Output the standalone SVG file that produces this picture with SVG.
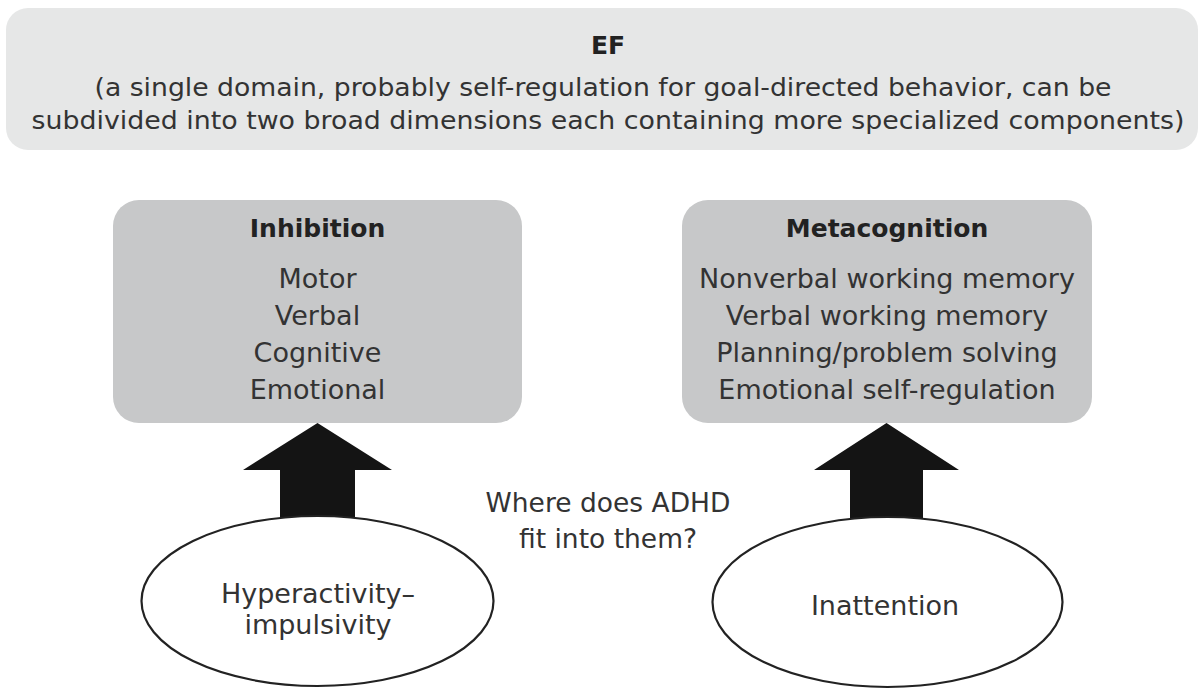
<svg xmlns="http://www.w3.org/2000/svg" width="1202" height="690" viewBox="0 0 1202 690">
  <style>
    .txt { font-family: "DejaVu Sans", "Liberation Sans", sans-serif; fill: #333333; text-anchor: middle; }
    .head { font-weight: bold; fill: #222222; }
    .banner { fill: #e6e7e7; }
    .panel { fill: #c7c8c9; }
    .oval { fill: #ffffff; stroke: #222222; stroke-width: 2.2; }
    .arrow { fill: #141414; }
  </style>

  <!-- top banner -->
  <g id="ef">
    <rect class="banner" x="6" y="8" width="1192" height="142" rx="22" ry="22"/>
    <text class="txt head" x="608" y="54" font-size="25">EF</text>
    <text class="txt" x="603" y="96" font-size="24.5" textLength="1017" lengthAdjust="spacingAndGlyphs">(a single domain, probably self-regulation for goal-directed behavior, can be</text>
    <text class="txt" x="608" y="129" font-size="24.5" textLength="1153" lengthAdjust="spacingAndGlyphs">subdivided into two broad dimensions each containing more specialized components)</text>
  </g>

  <!-- inhibition panel -->
  <g id="inhibition">
    <rect class="panel" x="113" y="200" width="409" height="223" rx="26" ry="26"/>
    <text class="txt head" x="317.5" y="237" font-size="25">Inhibition</text>
    <text class="txt" x="317.5" y="288" font-size="27">Motor</text>
    <text class="txt" x="317.5" y="325" font-size="27">Verbal</text>
    <text class="txt" x="317.5" y="362" font-size="27">Cognitive</text>
    <text class="txt" x="317.5" y="399" font-size="27">Emotional</text>
  </g>

  <!-- metacognition panel -->
  <g id="metacognition">
    <rect class="panel" x="682" y="200" width="410" height="223" rx="26" ry="26"/>
    <text class="txt head" x="887" y="237" font-size="25">Metacognition</text>
    <text class="txt" x="887" y="288" font-size="27">Nonverbal working memory</text>
    <text class="txt" x="887" y="325" font-size="27">Verbal working memory</text>
    <text class="txt" x="887" y="362" font-size="27">Planning/problem solving</text>
    <text class="txt" x="887" y="399" font-size="27">Emotional self-regulation</text>
  </g>

  <!-- block arrows -->
  <g id="connectors">
    <polygon class="arrow" points="317.5,423 392,470 355,470 355,518 280,518 280,470 243,470"/>
    <polygon class="arrow" points="886.5,423 959,470 923,470 923,518 850,518 850,470 814,470"/>
  </g>

  <!-- symptom ovals -->
  <g id="hyperactivity">
    <ellipse class="oval" cx="317.5" cy="601" rx="176" ry="85"/>
    <text class="txt" x="318" y="603" font-size="27">Hyperactivity–</text>
    <text class="txt" x="318" y="634" font-size="27">impulsivity</text>
  </g>

  <g id="inattention">
    <ellipse class="oval" cx="887.5" cy="602" rx="175" ry="85"/>
    <text class="txt" x="885" y="615" font-size="27">Inattention</text>
  </g>

  <!-- central question -->
  <g id="question">
    <text class="txt" x="608" y="512" font-size="26.5">Where does ADHD</text>
    <text class="txt" x="608" y="548" font-size="26.5">fit into them?</text>
  </g>
</svg>
